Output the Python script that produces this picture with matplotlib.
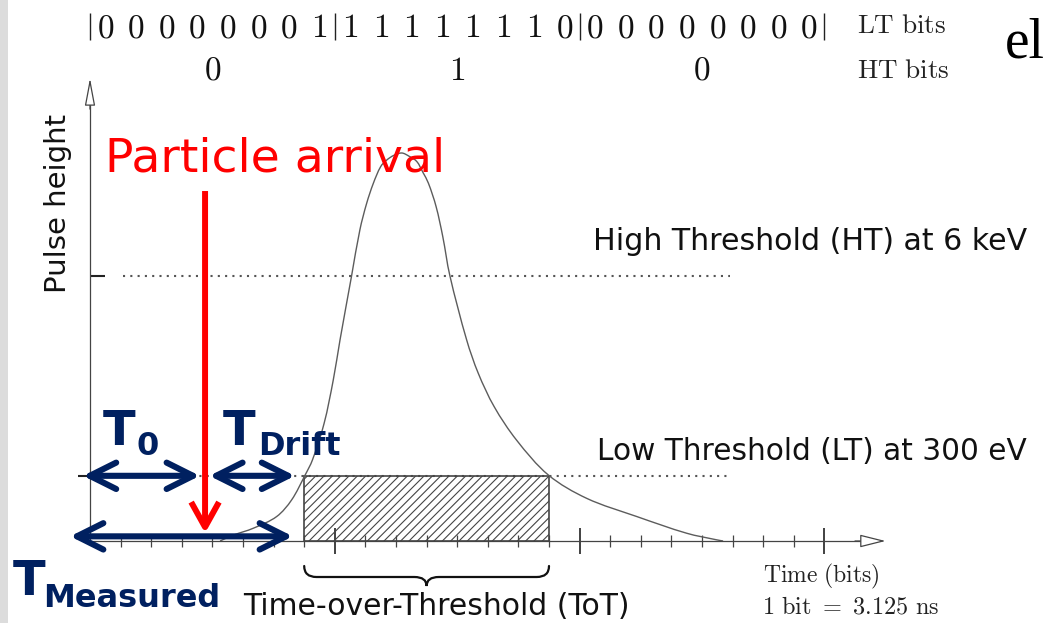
import matplotlib
matplotlib.use("Agg")
import matplotlib.pyplot as plt
from matplotlib.patches import Rectangle, FancyArrowPatch, PathPatch, ArrowStyle
from matplotlib.path import Path

plt.rcParams['mathtext.fontset'] = 'cm'
plt.rcParams['font.family'] = ['DejaVu Sans']
plt.rcParams['hatch.linewidth'] = 0.8

# ---------------- data ----------------
lt_bits = [0, 0, 0, 0, 0, 0, 0, 1,
           1, 1, 1, 1, 1, 1, 1, 0,
           0, 0, 0, 0, 0, 0, 0, 0]
ht_bits = [0, 1, 0]
group_size = 8
major_ticks = [8, 16, 24]
minor_ticks = [b for b in range(1, 24) if b not in major_ticks]

# pulse shape (time in bits, normalised pulse height)
pulse_t = [4.25, 4.68, 5.34, 6.10, 6.59, 7.03, 7.27, 7.65, 7.95, 8.17, 8.55,
           8.82, 9.04, 9.26, 9.50, 9.70, 9.93, 10.19, 10.42, 10.68, 10.88,
           11.06, 11.31, 11.53, 11.76, 12.31, 12.69, 13.21, 13.94, 14.98,
           16.23, 17.87, 19.50, 20.48, 20.69]
pulse_h = [0.0, 0.015, 0.033, 0.063, 0.106, 0.170, 0.209, 0.303, 0.415, 0.518,
           0.684, 0.802, 0.870, 0.922, 0.965, 0.982, 0.994, 1.0, 0.992, 0.978,
           0.950, 0.922, 0.862, 0.784, 0.684, 0.518, 0.432, 0.346, 0.260, 0.170,
           0.110, 0.063, 0.020, 0.003, 0.0]

lt_level = 0.168
ht_level = 0.683
tot_start, tot_end = 7, 15
arrival_time = 3.76
threshold_line_end = 20.9
ht_line_start = 1.08
x_axis_end = 26.0
y_axis_end = 1.193

t0_span = [-0.23, 3.59]
drift_span = [3.9, 6.7]
measured_span = [-0.65, 6.63]
measured_level = 0.012
arrival_top = 0.902

# ---------------- layout ----------------
W, H = 1044, 623
X0_PX, PX_PER_BIT = 90.0, 30.6
Y0_PX, PX_PER_H = 541.0, 388.0

NAVY = '#002060'
GREY = '#5c5c5c'

fig = plt.figure(figsize=(W / 100, H / 100), dpi=100)
ax = fig.add_axes([0, 0, 1, 1])
ax.set_xlim(-X0_PX / PX_PER_BIT, (W - X0_PX) / PX_PER_BIT)
ax.set_ylim(-(H - Y0_PX) / PX_PER_H, Y0_PX / PX_PER_H)
ax.set_facecolor('white')


def P(x, y):
    return ((x - X0_PX) / PX_PER_BIT, (Y0_PX - y) / PX_PER_H)


def Yp(y):
    return (Y0_PX - y) / PX_PER_H


def smooth_path(xs, ys):
    """Chord-length Hermite (Bezier) path through the given points."""
    pts = list(zip(xs, ys))
    n = len(pts)
    t = [0.0]
    for i in range(1, n):
        dx = (pts[i][0] - pts[i - 1][0]) * PX_PER_BIT
        dy = (pts[i][1] - pts[i - 1][1]) * PX_PER_H
        t.append(t[-1] + max((dx * dx + dy * dy) ** 0.5, 1e-6))
    tang = []
    for i in range(n):
        a = max(i - 1, 0)
        b = min(i + 1, n - 1)
        dt = t[b] - t[a]
        tang.append(((pts[b][0] - pts[a][0]) / dt, (pts[b][1] - pts[a][1]) / dt))
    verts = [pts[0]]
    codes = [Path.MOVETO]
    for i in range(n - 1):
        h = (t[i + 1] - t[i]) / 3
        c1 = (pts[i][0] + tang[i][0] * h, pts[i][1] + tang[i][1] * h)
        c2 = (pts[i + 1][0] - tang[i + 1][0] * h, pts[i + 1][1] - tang[i + 1][1] * h)
        verts += [c1, c2, pts[i + 1]]
        codes += [Path.CURVE4] * 3
    return Path(verts, codes)


# slide frame on left
fig.add_artist(Rectangle((0, 0), 8 / W, 1, transform=fig.transFigure,
                         facecolor='#dcdcdc', edgecolor='none'))

# axes spines as the plot axes
for s in ['top', 'right']:
    ax.spines[s].set_visible(False)
ax.spines['left'].set_position(('data', 0))
ax.spines['bottom'].set_position(('data', 0))
ax.spines['bottom'].set_bounds(0, x_axis_end - 0.6)
ax.spines['left'].set_bounds(0, y_axis_end - 0.05)
for s in ['left', 'bottom']:
    ax.spines[s].set_color('#444444')
    ax.spines[s].set_linewidth(0.9)

ax.set_xticks(major_ticks)
ax.set_xticks(minor_ticks, minor=True)
ax.tick_params(axis='x', which='major', direction='inout', length=19,
               width=1.3, color='#333333', labelbottom=False)
ax.tick_params(axis='x', which='minor', direction='inout', length=8.6,
               width=0.9, color='#444444')
ax.set_yticks([ht_level])
ax.set_yticks([lt_level], minor=True)
ax.tick_params(axis='y', which='major', direction='in', length=11,
               width=1.5, color='#222222', labelleft=False)
ax.tick_params(axis='y', which='minor', direction='out', length=9,
               width=1.5, color='#222222')

# axis arrow heads (open)
ax.add_patch(FancyArrowPatch((x_axis_end - 1.0, 0), (x_axis_end, 0),
                             arrowstyle=ArrowStyle('-|>', head_length=16, head_width=4),
                             mutation_scale=1, facecolor='white', edgecolor='#444444',
                             lw=0.9, shrinkA=0, shrinkB=0, zorder=3))
ax.add_patch(FancyArrowPatch((0, y_axis_end - 0.08), (0, y_axis_end),
                             arrowstyle=ArrowStyle('-|>', head_length=17, head_width=3.2),
                             mutation_scale=1, facecolor='white', edgecolor='#444444',
                             lw=0.9, shrinkA=0, shrinkB=0, zorder=3))

# threshold lines
ax.plot([0, threshold_line_end], [lt_level, lt_level], ls=(0, (1, 2.5)),
        lw=1.5, color='#555555', zorder=2)
ax.plot([ht_line_start, threshold_line_end], [ht_level, ht_level], ls=(0, (1, 2.5)),
        lw=1.5, color='#555555', zorder=2)

# ToT hatched area
ax.add_patch(Rectangle((tot_start, 0), tot_end - tot_start, lt_level, fill=False,
                       hatch='////', edgecolor='#444444', lw=1.2, zorder=2))

# pulse (smooth path through the read points)
ax.add_patch(PathPatch(smooth_path(pulse_t, pulse_h), fill=False, edgecolor=GREY,
                       lw=1.0, zorder=2))

# brace under ToT
xm = (tot_start + tot_end) / 2
yt, yl, ytip = Yp(566), Yp(577), Yp(586)
r = 0.4
verts = [(tot_start, yt), (tot_start, yl), (tot_start + r, yl),
         (xm - r, yl), (xm, yl), (xm, ytip),
         (xm, yl), (xm + r, yl),
         (tot_end - r, yl), (tot_end, yl), (tot_end, yt)]
codes = [Path.MOVETO, Path.CURVE3, Path.CURVE3,
         Path.LINETO, Path.CURVE3, Path.CURVE3,
         Path.CURVE3, Path.CURVE3,
         Path.LINETO, Path.CURVE3, Path.CURVE3]
ax.add_patch(PathPatch(Path(verts, codes), fill=False, lw=1.6, edgecolor='#111111',
                       capstyle='round', zorder=3))

# particle arrival arrow
ax.add_patch(FancyArrowPatch((arrival_time, arrival_top), (arrival_time, measured_level + 0.008),
                             arrowstyle=ArrowStyle('->', head_length=18, head_width=10),
                             mutation_scale=1, color='#ff0000', lw=4.3,
                             shrinkA=0, shrinkB=0, capstyle='butt', joinstyle='round',
                             zorder=5))

# navy double arrows
for span, lev in [(t0_span, lt_level), (drift_span, lt_level),
                  (measured_span, measured_level)]:
    ax.add_patch(FancyArrowPatch((span[0], lev), (span[1], lev),
                                 arrowstyle=ArrowStyle('<->', head_length=19, head_width=9.5),
                                 mutation_scale=1, color=NAVY, lw=4.4,
                                 shrinkA=0, shrinkB=0, capstyle='round',
                                 joinstyle='round', zorder=6))

# ---------------- texts ----------------
yb_lt = Yp(37)
yb_ht = Yp(80)
for i, b in enumerate(lt_bits):
    ax.text(i + 0.5, yb_lt, f'${b}$', ha='center', va='baseline', fontsize=24,
            color='#111111')
for g, b in enumerate(ht_bits):
    ax.text(g * group_size + group_size / 2, yb_ht, f'${b}$', ha='center',
            va='baseline', fontsize=24, color='#111111')
ax.vlines([g * group_size for g in range(len(ht_bits) + 1)], Yp(40), Yp(13),
          color='#222222', lw=1.0)
ax.text(*P(857, 33), r'$\mathrm{LT\ bits}$', ha='left', va='baseline', fontsize=19.5,
        color='#222222')
ax.text(*P(857, 78), r'$\mathrm{HT\ bits}$', ha='left', va='baseline', fontsize=19.5,
        color='#222222')
ax.text(*P(1005, 58), 'el', ha='left', va='baseline', fontsize=40,
        family='Liberation Serif', color='black')

ax.text(*P(105, 172), 'Particle arrival', ha='left', va='baseline', fontsize=34,
        color='#ff0000')
ax.text(*P(58, 203), 'Pulse height', ha='center', va='center', rotation=90,
        fontsize=21, color='#111111')
ax.text(*P(593, 250), 'High Threshold (HT) at 6 keV', ha='left', va='baseline',
        fontsize=21.6, color='#111111')
ax.text(*P(597, 460), 'Low Threshold (LT) at 300 eV', ha='left', va='baseline',
        fontsize=21.3, color='#111111')
ax.text(*P(243, 615), 'Time-over-Threshold (ToT)', ha='left', va='baseline',
        fontsize=21.5, color='#111111')
ax.text(*P(763, 582), r'$\mathrm{Time\ (bits)}$', ha='left', va='baseline',
        fontsize=17, color='#222222')
ax.text(*P(762, 614), r'$1\ \mathrm{bit}\ =\ 3.125\ \mathrm{ns}$', ha='left',
        va='baseline', fontsize=17.5, color='#222222')

for (tx, ty), (sx, sy), sub in [((103, 445), (137, 455), '0'),
                                ((223, 445), (258, 455), 'Drift'),
                                ((13, 595), (43, 607), 'Measured')]:
    ax.text(*P(tx, ty), 'T', ha='left', va='baseline', fontsize=34.5,
            fontweight='bold', color=NAVY, zorder=7)
    ax.text(*P(sx, sy), sub, ha='left', va='baseline', fontsize=23,
            fontweight='bold', color=NAVY, zorder=7)

fig.savefig('out.png', dpi=100)
